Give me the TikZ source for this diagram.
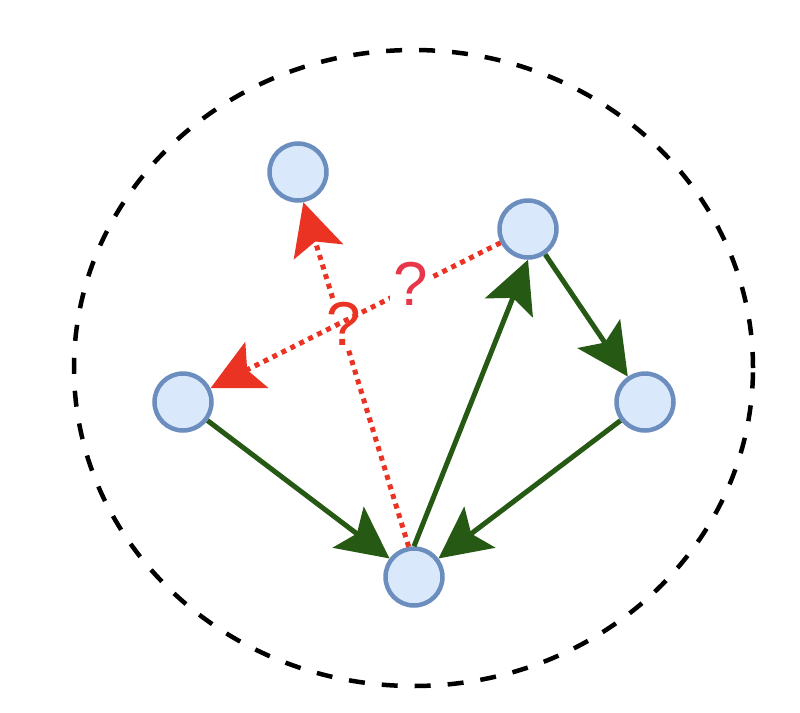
\documentclass[tikz,border=0pt]{standalone}
\usepackage{fontspec}
\setmainfont{Liberation Sans}
\usepackage{xcolor}
\usetikzlibrary{arrows.meta}

\definecolor{peerfill}{HTML}{DAE8FC}
\definecolor{peerline}{HTML}{6C8EBF}
\definecolor{linkgreen}{HTML}{265A14}
\definecolor{linkred}{HTML}{EA3323}
\definecolor{askred}{HTML}{E8364A}

\begin{document}
\begin{tikzpicture}[
      x=1pt, y=-1pt,
      peer/.style={circle, draw=peerline, fill=peerfill, line width=4.5pt, minimum size=57pt, inner sep=0pt},
      known/.style={draw=linkgreen, line width=5pt, -{Stealth[length=52pt, width=52pt, inset=11pt, line width=0pt]}},
      unknown/.style={draw=linkred, line width=5pt, dash pattern=on 5pt off 5pt, -{Stealth[length=52pt, width=52pt, inset=11pt, line width=0pt]}},
      ask/.style={fill=white, text=askred, inner sep=3pt, font=\fontsize{62}{62}\selectfont},
      boundary/.style={draw=black, line width=4.5pt, dash pattern=on 16pt off 17pt}
    ]
    \useasboundingbox (0,0) rectangle (800,712);
    % Boundary
    \draw[boundary] (413.5,368) ellipse [x radius=339.5pt, y radius=318pt];

    % Nodes
    \node[peer] (tl) at (298,172) {};
    \node[peer] (tr) at (528,229) {};
    \node[peer] (lf) at (183,402) {};
    \node[peer] (rt) at (645,402) {};
    \node[peer] (bt) at (414,577) {};

    % Edges
    \draw[known] (lf) -- (bt);
    \draw[known] (bt.north) -- (tr.south);
    \draw[known] (tr) -- (rt);
    \draw[known] (rt) -- (bt);
    \draw[unknown] (bt.100) -- node[ask, text=linkred, pos=0.647, xshift=3pt] (q1) {?} (tl.-80);
    \draw[unknown] (tr) -- node[ask, pos=0.31, yshift=4pt] (q2) {?} (lf);
  \end{tikzpicture}
\end{document}
